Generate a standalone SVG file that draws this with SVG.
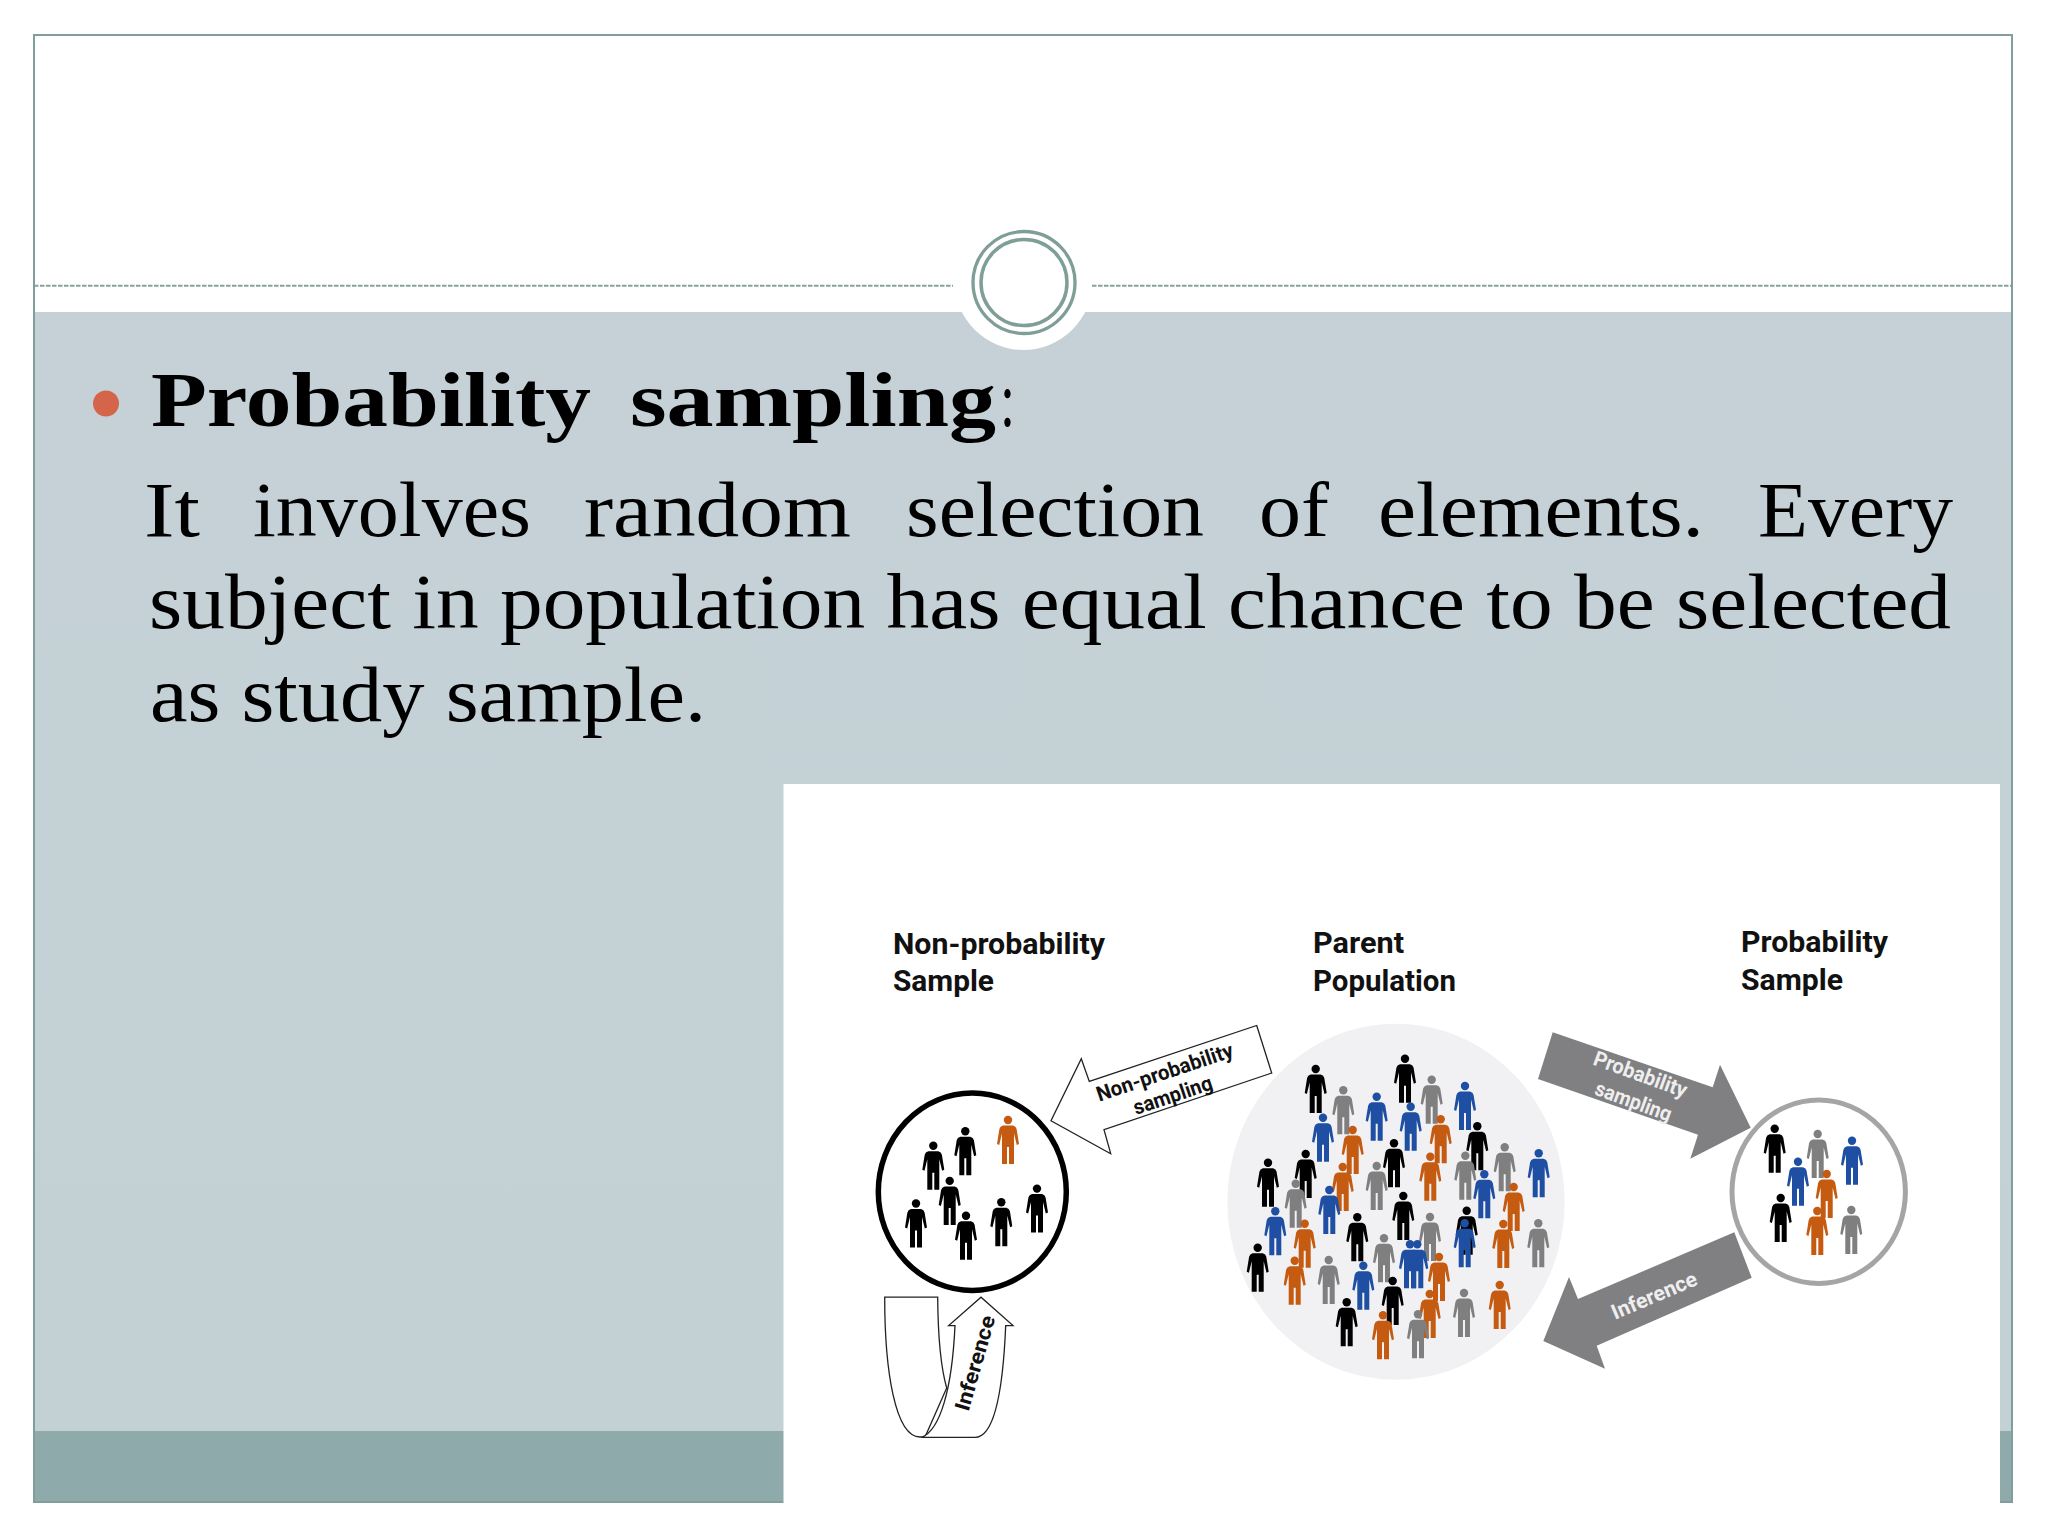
<svg xmlns="http://www.w3.org/2000/svg" width="2048" height="1536" viewBox="0 0 2048 1536">
<style>
.body{font-family:"Liberation Serif",serif;font-size:78px;fill:#000}
.h{font-family:"Roboto","Liberation Sans",sans-serif;font-weight:700;font-size:29px;fill:#111}
.a{font-family:"Roboto","Liberation Sans",sans-serif;font-weight:700;font-size:21px;text-anchor:middle}
.k{fill:#000}.g{fill:#7f7f7f}.b{fill:#1f4fa3}.o{fill:#c55a11}
.line{fill:#fff;stroke:#222;stroke-width:1.3}
.dark{fill:#808082}
</style>
<defs>
<linearGradient id="bg" x1="0" y1="0" x2="0" y2="1"><stop offset="0" stop-color="#c5d1d6"/><stop offset="1" stop-color="#c3d1d5"/></linearGradient>
<g id="p"><circle cx="0" cy="0" r="4.2"/><path d="M-5,5.5H5Q8,6 8.6,9L11,24L8.8,25L6,13.500V44H1V27H-1V44H-6V13.500L-8.800,25L-11,24L-8.600,9Q-8,6 -5,5.500Z"/></g>
</defs>
<rect width="2048" height="1536" fill="#fff"/>
<g id="slide">
<rect x="34" y="312" width="1978" height="1119" fill="url(#bg)"/>
<rect x="34" y="1431" width="1978" height="71" fill="#8faaab"/>
<circle cx="1023.500" cy="281" r="69" fill="#fff"/>
<path d="M34,285.700H953M1092,285.700H2012" stroke="#86a29d" stroke-width="2" stroke-dasharray="4.500 1.500" fill="none"/>
<circle cx="1024" cy="282.500" r="51" fill="#fff" stroke="#7f9e97" stroke-width="3.300"/>
<circle cx="1024" cy="282.500" r="43" fill="#fff" stroke="#7f9e97" stroke-width="3.500"/>
<rect x="34" y="35" width="1978" height="1467" fill="none" stroke="#7f9e9c" stroke-width="2"/>
</g>
<g id="text">
<circle cx="106" cy="403.500" r="13" fill="#d4654b"/>
<text class="body" y="426" font-weight="700"><tspan x="151" textLength="440" lengthAdjust="spacingAndGlyphs">Probability</tspan><tspan x="630" textLength="366" lengthAdjust="spacingAndGlyphs">sampling</tspan></text>
<text class="body" x="1000" y="426" textLength="15" lengthAdjust="spacingAndGlyphs">:</text>
<text class="body" y="536"><tspan x="144" textLength="56" lengthAdjust="spacingAndGlyphs">It</tspan><tspan x="253" textLength="278" lengthAdjust="spacingAndGlyphs">involves</tspan><tspan x="584" textLength="267" lengthAdjust="spacingAndGlyphs">random</tspan><tspan x="906" textLength="298" lengthAdjust="spacingAndGlyphs">selection</tspan><tspan x="1259" textLength="70" lengthAdjust="spacingAndGlyphs">of</tspan><tspan x="1378" textLength="326" lengthAdjust="spacingAndGlyphs">elements.</tspan><tspan x="1758" textLength="195" lengthAdjust="spacingAndGlyphs">Every</tspan></text>
<text class="body" x="149" y="628" textLength="1802" lengthAdjust="spacingAndGlyphs">subject in population has equal chance to be selected</text>
<text class="body" x="150" y="720.500" textLength="556" lengthAdjust="spacingAndGlyphs">as study sample.</text>
</g>
<rect id="figure" x="783.500" y="784" width="1216.500" height="720" fill="#fff"/>
<g id="non-probability-sample">
<text class="h" x="893" y="953.500" textLength="212" lengthAdjust="spacingAndGlyphs">Non-probability</text>
<text class="h" x="893" y="991" textLength="101" lengthAdjust="spacingAndGlyphs">Sample</text>
<ellipse cx="972.300" cy="1191.800" rx="94" ry="98.700" fill="#fff" stroke="#000" stroke-width="5.500"/>
<use href="#p" x="933.300" y="1145.700" class="k"/><use href="#p" x="965.300" y="1131.200" class="k"/><use href="#p" x="949.700" y="1180.900" class="k"/><use href="#p" x="916" y="1203.500" class="k"/><use href="#p" x="966" y="1215.700" class="k"/><use href="#p" x="1001.300" y="1202.300" class="k"/><use href="#p" x="1037" y="1188.600" class="k"/><use href="#p" x="1008" y="1120" class="o"/>
</g>
<g id="parent-population">
<text class="h" x="1313" y="953" textLength="91" lengthAdjust="spacingAndGlyphs">Parent</text>
<text class="h" x="1313" y="991" textLength="143" lengthAdjust="spacingAndGlyphs">Population</text>
<ellipse cx="1396" cy="1201.700" rx="168.700" ry="178" fill="#f1f1f3"/>
<use href="#p" x="1405" y="1058.700" class="k"/><use href="#p" x="1315.700" y="1069" class="k"/><use href="#p" x="1431.700" y="1079.700" class="g"/><use href="#p" x="1465" y="1086" class="b"/><use href="#p" x="1343.300" y="1090.300" class="g"/><use href="#p" x="1376.700" y="1096.700" class="b"/><use href="#p" x="1410.700" y="1106.700" class="b"/><use href="#p" x="1323" y="1117.700" class="b"/><use href="#p" x="1440.700" y="1119.300" class="o"/><use href="#p" x="1477.300" y="1126.300" class="k"/><use href="#p" x="1352.700" y="1130" class="o"/><use href="#p" x="1394" y="1143.300" class="k"/><use href="#p" x="1504.700" y="1147.300" class="g"/><use href="#p" x="1538.700" y="1153.300" class="b"/><use href="#p" x="1305.700" y="1154" class="k"/><use href="#p" x="1465.300" y="1155.700" class="g"/><use href="#p" x="1430.300" y="1156.700" class="o"/><use href="#p" x="1268" y="1162.700" class="k"/><use href="#p" x="1376.700" y="1166" class="g"/><use href="#p" x="1342.700" y="1167" class="o"/><use href="#p" x="1484.300" y="1174.300" class="b"/><use href="#p" x="1295.700" y="1183.700" class="g"/><use href="#p" x="1513.700" y="1187" class="o"/><use href="#p" x="1329.300" y="1190" class="b"/><use href="#p" x="1403.300" y="1196" class="k"/><use href="#p" x="1466.700" y="1210.700" class="k"/><use href="#p" x="1275.300" y="1211.300" class="b"/><use href="#p" x="1430" y="1217" class="g"/><use href="#p" x="1357.300" y="1217.300" class="k"/><use href="#p" x="1464.700" y="1223.300" class="b"/><use href="#p" x="1538.300" y="1223.300" class="g"/><use href="#p" x="1304.700" y="1223.700" class="o"/><use href="#p" x="1503.300" y="1224" class="o"/><use href="#p" x="1384" y="1238.300" class="g"/><use href="#p" x="1410" y="1244.300" class="b"/><use href="#p" x="1417.300" y="1244.300" class="b"/><use href="#p" x="1257.700" y="1247.700" class="k"/><use href="#p" x="1439" y="1257" class="o"/><use href="#p" x="1328.700" y="1260" class="g"/><use href="#p" x="1294.700" y="1260.700" class="o"/><use href="#p" x="1363.300" y="1265.700" class="b"/><use href="#p" x="1392.700" y="1281" class="k"/><use href="#p" x="1499.700" y="1285" class="o"/><use href="#p" x="1464" y="1293" class="g"/><use href="#p" x="1429.700" y="1294" class="o"/><use href="#p" x="1346.700" y="1302.300" class="k"/><use href="#p" x="1418" y="1314.300" class="g"/><use href="#p" x="1383" y="1315.300" class="o"/>
</g>
<g id="probability-sample">
<text class="h" x="1741" y="952" textLength="147" lengthAdjust="spacingAndGlyphs">Probability</text>
<text class="h" x="1741" y="990" textLength="102" lengthAdjust="spacingAndGlyphs">Sample</text>
<ellipse cx="1818.700" cy="1191.700" rx="86.700" ry="91.700" fill="#fff" stroke="#a5a5a7" stroke-width="5"/>
<use href="#p" x="1774.700" y="1128.700" class="k"/><use href="#p" x="1817.700" y="1134" class="g"/><use href="#p" x="1852" y="1140.700" class="b"/><use href="#p" x="1798" y="1161.700" class="b"/><use href="#p" x="1826.700" y="1174" class="o"/><use href="#p" x="1780.700" y="1198" class="k"/><use href="#p" x="1851.300" y="1210" class="g"/><use href="#p" x="1817.300" y="1211" class="o"/>
</g>
<g id="connectors">
<g id="non-probability-sampling">
<polygon class="line" points="1256.700,1025.500 1271.700,1073 1104,1129.600 1110.700,1153.700 1051,1120.800 1081.300,1058.800 1089.300,1081.400"/>
<text class="a" fill="#111" transform="translate(1167,1079) rotate(-18.500)" textLength="143" lengthAdjust="spacingAndGlyphs">Non-probability</text>
<text class="a" fill="#111" transform="translate(1175,1102) rotate(-18.500)" textLength="82" lengthAdjust="spacingAndGlyphs">sampling</text>
</g>
<g id="self-inference">
<path class="line" d="M884.700,1297.200H937.700C938,1340 941,1368 946.700,1388L925,1437H920C895,1437 884.700,1370 884.700,1297.200Z"/>
<path class="line" d="M921.700,1437.300C940,1430 952,1390 955,1325.600H948.700L981,1297.200L1013,1325.600H1005.700C1003,1390 995,1437.300 975,1437.300Z"/>
<text class="a" fill="#111" transform="translate(982,1365) rotate(-74)" textLength="98" lengthAdjust="spacingAndGlyphs">Inference</text>
</g>
<g id="probability-sampling">
<polygon class="dark" points="1552.700,1032.300 1712.700,1087.300 1720,1064.700 1750.700,1127.700 1690.300,1158.700 1698,1134.700 1538,1079"/>
<text class="a" fill="#eee" transform="translate(1638,1081) rotate(20)" textLength="98" lengthAdjust="spacingAndGlyphs">Probability</text>
<text class="a" fill="#eee" transform="translate(1631,1108) rotate(20)" textLength="80" lengthAdjust="spacingAndGlyphs">sampling</text>
</g>
<g id="inference">
<polygon class="dark" points="1734.300,1232.300 1751.700,1277.700 1596.700,1345.700 1605,1368.700 1543.300,1341 1569,1277 1578,1299"/>
<text class="a" fill="#eee" transform="translate(1657,1302) rotate(-23)" textLength="91" lengthAdjust="spacingAndGlyphs">Inference</text>
</g>
</g>
</svg>
